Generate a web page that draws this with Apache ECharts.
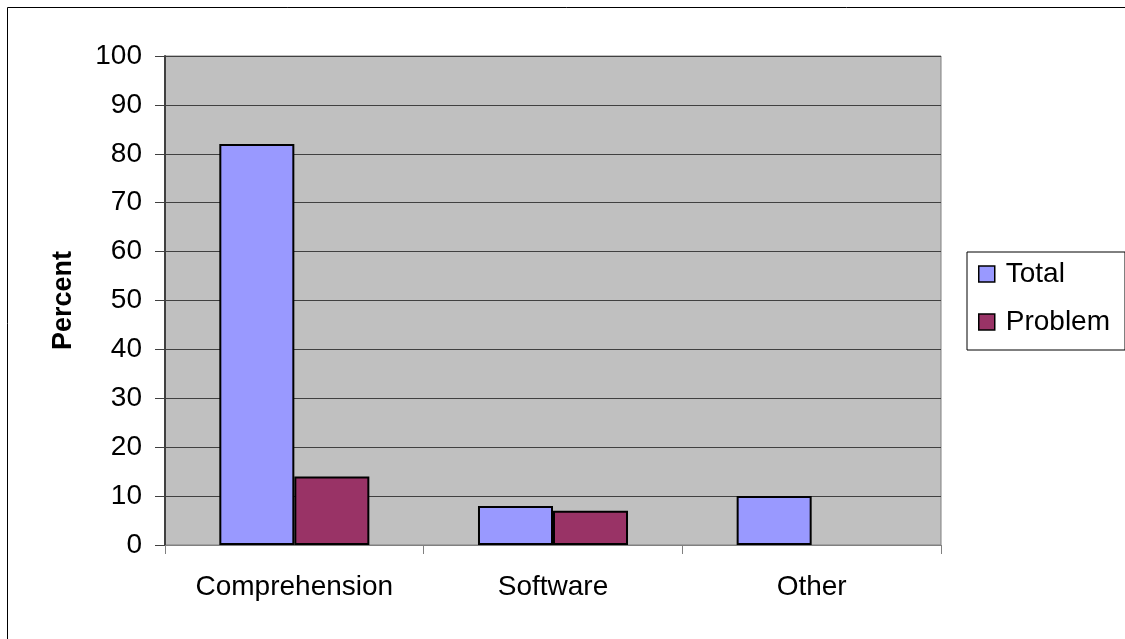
<!DOCTYPE html>
<html><head><meta charset="utf-8">
<script src="https://cdn.jsdelivr.net/npm/echarts@6/dist/echarts.min.js"></script>
<style>html,body{margin:0;padding:0;background:#fff}#c{width:1125px;height:639px}</style>
</head><body><div id="c"></div>
<script>
const categories = ['Comprehension', 'Software', 'Other'];
const totalValues = [82, 8, 10];
const problemValues = [14, 7, null];
const yTicks = [0, 10, 20, 30, 40, 50, 60, 70, 80, 90, 100];

const chart = echarts.init(document.getElementById('c'));
const F = 'Liberation Sans, Arial, sans-serif';
chart.setOption({
  animation: false,
  backgroundColor: '#fff',
  graphic: [
    {type: 'rect', shape: {x: 7.5, y: 7.5, width: 1200, height: 700}, style: {fill: 'none', stroke: '#000', lineWidth: 1}, z: 100}
  ],
  grid: {left: 165, top: 56, width: 776, height: 489, backgroundColor: '#c0c0c0', show: true, borderColor: '#808080', borderWidth: 1},
  legend: {
    orient: 'vertical', left: 967, top: 252,
    padding: [8, 15, 14, 11], itemGap: 20,
    backgroundColor: '#fff', borderColor: '#000', borderWidth: 1,
    icon: 'rect', itemWidth: 16, itemHeight: 16,
    itemStyle: {borderColor: '#000', borderWidth: 1.5},
    textStyle: {fontFamily: F, fontSize: 28, lineHeight: 28, color: '#000', padding: [0, 0, 0, 6]},
    data: ['Total', 'Problem']
  },
  xAxis: {
    type: 'category', data: categories,
    axisLine: {lineStyle: {color: '#808080', width: 1}},
    axisTick: {show: true, length: 9, lineStyle: {color: '#808080'}},
    axisLabel: {fontFamily: F, fontSize: 28, color: '#000', margin: 28}
  },
  yAxis: {
    type: 'value', min: 0, max: 100, interval: 10,
    name: 'Percent', nameLocation: 'middle', nameGap: 88, nameRotate: 90,
    nameTextStyle: {fontFamily: F, fontSize: 27, fontWeight: 'bold', color: '#000'},
    axisLine: {show: true, lineStyle: {color: '#404040', width: 2}},
    axisTick: {show: true, length: 10, lineStyle: {color: '#404040'}},
    axisLabel: {fontFamily: F, fontSize: 28, color: '#000', margin: 23,
      formatter: v => yTicks.includes(v) ? String(v) : ''},
    splitLine: {lineStyle: {color: '#404040', width: 1}}
  },
  series: [
    {name: 'Total', type: 'bar', data: totalValues, barGap: '0%', barCategoryGap: '42%',
     itemStyle: {color: '#9999ff', borderColor: '#000', borderWidth: 2}},
    {name: 'Problem', type: 'bar', data: problemValues,
     itemStyle: {color: '#993366', borderColor: '#000', borderWidth: 2}}
  ]
});
</script></body></html>
